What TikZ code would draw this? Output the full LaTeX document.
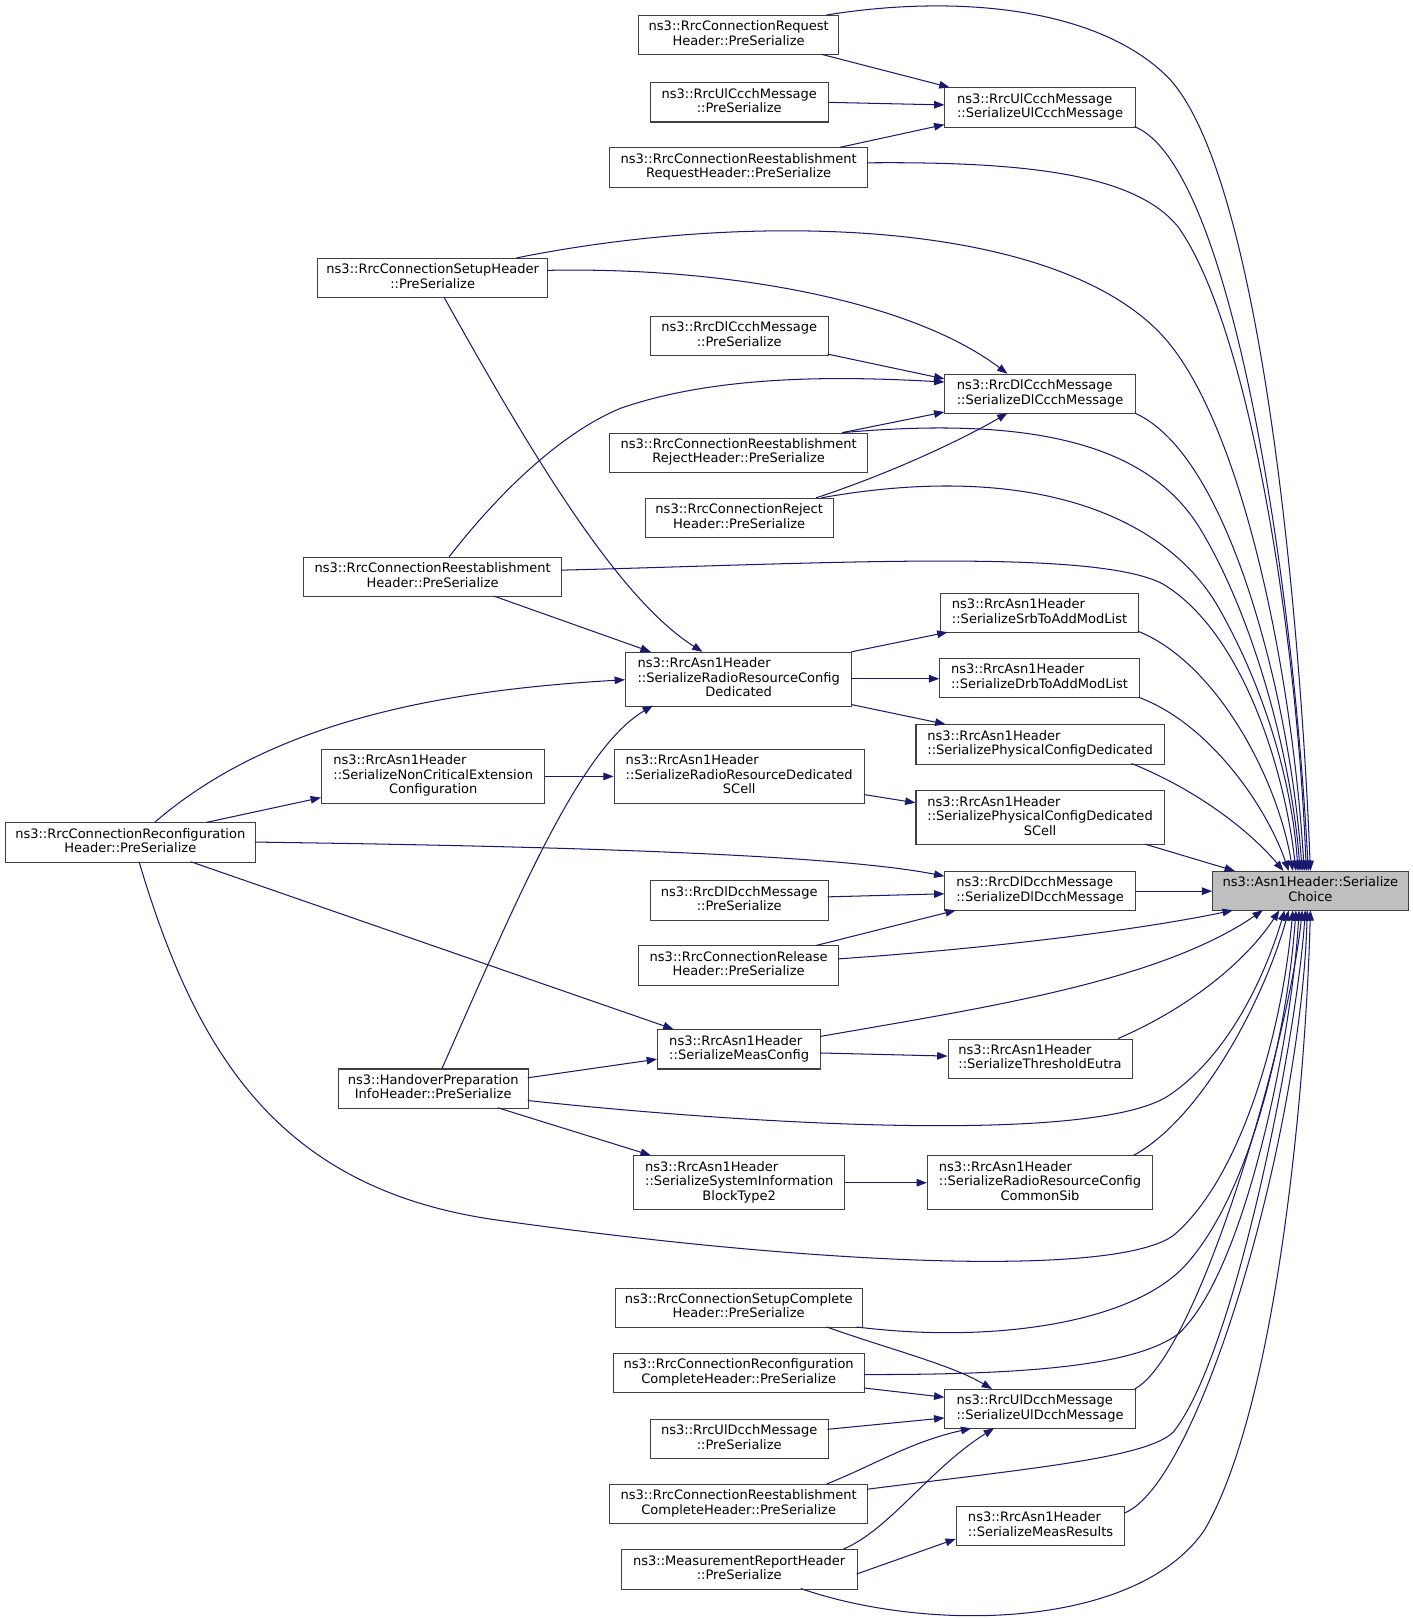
\documentclass[tikz,border=0pt]{standalone}
\usepackage{fontspec}
\setmainfont{DejaVu Sans}
\usetikzlibrary{arrows.meta}
\definecolor{edgec}{HTML}{191970}
\definecolor{boxc}{HTML}{404040}
\definecolor{hl}{HTML}{BFBFBF}
\newcommand\lb[2]{\begin{tabular}{@{}l@{}}#1\\\multicolumn{1}{@{}c@{}}{#2}\end{tabular}}
\newcommand\nd[7][]{\node[nbox,#1,minimum width={(#4-#2)*0.75pt},minimum height={(#5-#3)*0.75pt}] (#6) at ({(#2+#4)/2},{(#3+#5)/2}) {#7};}
\begin{document}
\begin{tikzpicture}[x=0.75pt,y=-0.75pt,
  nbox/.style={draw=boxc,fill=white,line width=0.75pt,inner sep=0pt,font=\fontsize{9.45}{10.5}\selectfont},
  cl/.style={draw=edgec,line width=0.75pt,-{Triangle[length=7.5pt,width=5.5pt]}}]
\fill[white] (0,0) rectangle (1366,1566);
\useasboundingbox (0,0) rectangle (1366,1566);
% callee
\nd[fill=hl]{1173}{843}{1362}{881}{sc}{\lb{ns3::Asn1Header::Serialize}{Choice}}
% column 4
\nd{914}{85}{1098}{123}{ulc}{\lb{ns3::RrcUlCcchMessage}{::SerializeUlCcchMessage}}
\nd{914}{362}{1098}{400}{dlc}{\lb{ns3::RrcDlCcchMessage}{::SerializeDlCcchMessage}}
\nd{910}{574}{1101}{612}{srb}{\lb{ns3::RrcAsn1Header}{::SerializeSrbToAddModList}}
\nd{909}{637}{1102}{675}{drb}{\lb{ns3::RrcAsn1Header}{::SerializeDrbToAddModList}}
\nd{886}{701}{1126}{739}{pd}{\lb{ns3::RrcAsn1Header}{::SerializePhysicalConfigDedicated}}
\nd{886}{765}{1126}{817}{pds}{\lb{ns3::RrcAsn1Header\\::SerializePhysicalConfigDedicated}{SCell}}
\nd{914}{843}{1098}{881}{dld}{\lb{ns3::RrcDlDcchMessage}{::SerializeDlDcchMessage}}
\nd{917}{1005}{1095}{1043}{thr}{\lb{ns3::RrcAsn1Header}{::SerializeThresholdEutra}}
\nd{897}{1118}{1115}{1170}{rcs}{\lb{ns3::RrcAsn1Header\\::SerializeRadioResourceConfig}{CommonSib}}
\nd{914}{1344}{1098}{1382}{uld}{\lb{ns3::RrcUlDcchMessage}{::SerializeUlDcchMessage}}
\nd{925}{1457}{1088}{1495}{mr}{\lb{ns3::RrcAsn1Header}{::SerializeMeasResults}}
% column 3
\nd{618}{15}{811}{53}{req}{\lb{ns3::RrcConnectionRequest}{Header::PreSerialize}}
\nd{629}{80}{801}{118}{ulcp}{\lb{ns3::RrcUlCcchMessage}{::PreSerialize}}
\nd{590}{143}{839}{181}{rreq}{\lb{ns3::RrcConnectionReestablishment}{RequestHeader::PreSerialize}}
\nd{629}{306}{801}{344}{dlcp}{\lb{ns3::RrcDlCcchMessage}{::PreSerialize}}
\nd{590}{419}{839}{457}{rrej}{\lb{ns3::RrcConnectionReestablishment}{RejectHeader::PreSerialize}}
\nd{624}{482}{806}{520}{crej}{\lb{ns3::RrcConnectionReject}{Header::PreSerialize}}
\nd{605}{631}{824}{683}{rd}{\lb{ns3::RrcAsn1Header\\::SerializeRadioResourceConfig}{Dedicated}}
\nd{594}{725}{836}{777}{rds}{\lb{ns3::RrcAsn1Header\\::SerializeRadioResourceDedicated}{SCell}}
\nd{629}{852}{801}{890}{dldp}{\lb{ns3::RrcDlDcchMessage}{::PreSerialize}}
\nd{618}{915}{811}{953}{rel}{\lb{ns3::RrcConnectionRelease}{Header::PreSerialize}}
\nd{636}{996}{794}{1034}{mc}{\lb{ns3::RrcAsn1Header}{::SerializeMeasConfig}}
\nd{613}{1118}{817}{1170}{sib}{\lb{ns3::RrcAsn1Header\\::SerializeSystemInformation}{BlockType2}}
\nd{595}{1246}{834}{1284}{scmp}{\lb{ns3::RrcConnectionSetupComplete}{Header::PreSerialize}}
\nd{593}{1309}{836}{1347}{rcmp}{\lb{ns3::RrcConnectionReconfiguration}{CompleteHeader::PreSerialize}}
\nd{629}{1373}{801}{1411}{uldp}{\lb{ns3::RrcUlDcchMessage}{::PreSerialize}}
\nd{590}{1436}{839}{1474}{recmp}{\lb{ns3::RrcConnectionReestablishment}{CompleteHeader::PreSerialize}}
\nd{601}{1499}{829}{1537}{mrep}{\lb{ns3::MeasurementReportHeader}{::PreSerialize}}
% column 2
\nd{307}{250}{530}{288}{setup}{\lb{ns3::RrcConnectionSetupHeader}{::PreSerialize}}
\nd{294}{539}{543}{577}{reest}{\lb{ns3::RrcConnectionReestablishment}{Header::PreSerialize}}
\nd{311}{725}{527}{777}{nc}{\lb{ns3::RrcAsn1Header\\::SerializeNonCriticalExtension}{Configuration}}
\nd{327}{1034}{511}{1072}{ho}{\lb{ns3::HandoverPreparation}{InfoHeader::PreSerialize}}
% column 1
\nd{5}{796}{247}{834}{reconf}{\lb{ns3::RrcConnectionReconfiguration}{Header::PreSerialize}}

% ---- edges into SerializeChoice
\draw[cl] ([shift={(182,0)}]req.north west) .. controls (920,-5) and (1060,5) .. (1130,75) .. controls (1220,170) and (1258,600) .. ([shift={(95,0)}]sc.north west);
\draw[cl] ([shift={(184,38)}]ulc.north west) .. controls (1190,160) and (1250,550) .. ([shift={(93,0)}]sc.north west);
\draw[cl] ([shift={(249,15)}]rreq.north west) .. controls (1000,156) and (1100,170) .. (1140,220) .. controls (1210,320) and (1255,620) .. ([shift={(91,0)}]sc.north west);
\draw[cl] ([shift={(193,0)}]setup.north west) .. controls (720,205) and (1010,210) .. (1120,320) .. controls (1200,400) and (1250,650) .. ([shift={(89,0)}]sc.north west);
\draw[cl] ([shift={(184,38)}]dlc.north west) .. controls (1190,440) and (1248,680) .. ([shift={(87,0)}]sc.north west);
\draw[cl] ([shift={(225,0)}]rrej.north west) .. controls (1000,402) and (1110,430) .. (1160,510) .. controls (1215,600) and (1250,740) .. ([shift={(85,0)}]sc.north west);
\draw[cl] ([shift={(171,0)}]crej.north west) .. controls (1000,445) and (1130,500) .. (1180,590) .. controls (1225,670) and (1250,760) .. ([shift={(83,0)}]sc.north west);
\draw[cl] ([shift={(249,13)}]reest.north west) .. controls (800,545) and (1060,530) .. (1125,565) .. controls (1200,610) and (1242,740) .. ([shift={(81,0)}]sc.north west);
\draw[cl] ([shift={(191,37)}]srb.north west) .. controls (1175,640) and (1235,750) .. ([shift={(78,0)}]sc.north west);
\draw[cl] ([shift={(193,38)}]drb.north west) .. controls (1170,700) and (1225,780) .. ([shift={(74,0)}]sc.north west);
\draw[cl] ([shift={(209,38)}]pd.north west) .. controls (1160,765) and (1210,805) .. ([shift={(69,0)}]sc.north west);
\draw[cl] ([shift={(222,52)}]pds.north west) -- ([shift={(22,0)}]sc.north west);
\draw[cl] (dld.east) -- (sc.west);
\draw[cl] ([shift={(193,13)}]rel.north west) .. controls (950,918) and (1100,900) .. ([shift={(20,38)}]sc.north west);
\draw[cl] ([shift={(158,7)}]mc.north west) .. controls (950,975) and (1120,950) .. ([shift={(49,38)}]sc.north west);
\draw[cl] ([shift={(165,0)}]thr.north west) .. controls (1150,975) and (1205,930) .. ([shift={(65,38)}]sc.north west);
\draw[cl] ([shift={(184,31)}]ho.north west) .. controls (750,1090) and (1060,1105) .. (1130,1060) .. controls (1190,1020) and (1225,940) .. ([shift={(70,38)}]sc.north west);
\draw[cl] ([shift={(200,0)}]rcs.north west) .. controls (1165,1080) and (1225,960) .. ([shift={(74,38)}]sc.north west);
\draw[cl] ([shift={(130,38)}]reconf.north west) .. controls (190,1020) and (270,1150) .. (480,1180) .. controls (800,1225) and (1080,1235) .. (1135,1195) .. controls (1200,1140) and (1240,1000) .. ([shift={(78,38)}]sc.north west);
\draw[cl] ([shift={(234,38)}]scmp.north west) .. controls (960,1300) and (1100,1280) .. (1150,1220) .. controls (1210,1150) and (1245,1000) .. ([shift={(81,38)}]sc.north west);
\draw[cl] ([shift={(243,21)}]rcmp.north west) .. controls (1000,1330) and (1100,1320) .. (1140,1290) .. controls (1205,1230) and (1250,1000) .. ([shift={(84,38)}]sc.north west);
\draw[cl] ([shift={(184,0)}]uld.north west) .. controls (1160,1310) and (1248,1000) .. ([shift={(87,38)}]sc.north west);
\draw[cl] ([shift={(249,5)}]recmp.north west) .. controls (1000,1420) and (1110,1410) .. (1135,1385) .. controls (1195,1310) and (1255,1000) .. ([shift={(90,38)}]sc.north west);
\draw[cl] ([shift={(163,7)}]mr.north west) .. controls (1160,1435) and (1258,1100) .. ([shift={(92,38)}]sc.north west);
\draw[cl] ([shift={(174,38)}]mrep.north west) .. controls (900,1580) and (1100,1575) .. (1165,1480) .. controls (1235,1360) and (1263,1050) .. ([shift={(95,38)}]sc.north west);
% ---- UlCcch
\draw[cl] ([shift={(177,38)}]req.north west) -- ([shift={(5,0)}]ulc.north west);
\draw[cl] (ulcp.east) -- ([shift={(0,17)}]ulc.north west);
\draw[cl] ([shift={(223,0)}]rreq.north west) -- ([shift={(0,36)}]ulc.north west);
% ---- DlCcch
\draw[cl] ([shift={(223,12)}]setup.north west) .. controls (700,258) and (880,290) .. ([shift={(61,0)}]dlc.north west);
\draw[cl] ([shift={(172,37)}]dlcp.north west) -- ([shift={(0,5)}]dlc.north west);
\draw[cl] ([shift={(141,0)}]reest.north west) .. controls (480,480) and (540,420) .. (600,395) .. controls (700,360) and (830,365) .. ([shift={(0,8)}]dlc.north west);
\draw[cl] ([shift={(225,0)}]rrej.north west) -- ([shift={(0,37)}]dlc.north west);
\draw[cl] ([shift={(166,0)}]crej.north west) .. controls (870,455) and (940,420) .. ([shift={(61,38)}]dlc.north west);
% ---- RadioResourceConfigDedicated
\draw[cl] ([shift={(123,38)}]setup.north west) .. controls (520,450) and (600,580) .. ([shift={(75,0)}]rd.north west);
\draw[cl] ([shift={(184,38)}]reest.north west) -- ([shift={(25,0)}]rd.north west);
\draw[cl] ([shift={(145,0)}]reconf.north west) .. controls (260,700) and (420,668) .. ([shift={(0,27)}]rd.north west);
\draw[cl] ([shift={(101,0)}]ho.north west) .. controls (500,870) and (560,725) .. ([shift={(27,52)}]rd.north west);
\draw[cl] ([shift={(219,0)}]rd.north west) -- ([shift={(7,38)}]srb.north west);
\draw[cl] ([shift={(219,26)}]rd.north west) -- ([shift={(0,20)}]drb.north west);
\draw[cl] ([shift={(219,51)}]rd.north west) -- ([shift={(29,0)}]pd.north west);
\draw[cl] ([shift={(242,44)}]rds.north west) -- ([shift={(0,12)}]pds.north west);
\draw[cl] (nc.east) -- (rds.west);
\draw[cl] ([shift={(195,0)}]reconf.north west) -- ([shift={(0,47)}]nc.north west);
% ---- DlDcch
\draw[cl] ([shift={(242,19)}]reconf.north west) .. controls (500,818) and (800,825) .. ([shift={(0,5)}]dld.north west);
\draw[cl] ([shift={(172,16)}]dldp.north west) -- ([shift={(0,22)}]dld.north west);
\draw[cl] ([shift={(172,0)}]rel.north west) -- ([shift={(11,38)}]dld.north west);
% ---- MeasConfig etc.
\draw[cl] ([shift={(180,38)}]reconf.north west) -- ([shift={(16,0)}]mc.north west);
\draw[cl] ([shift={(184,9)}]ho.north west) -- ([shift={(0,29)}]mc.north west);
\draw[cl] ([shift={(158,23)}]mc.north west) -- ([shift={(0,17)}]thr.north west);
\draw[cl] ([shift={(155,38)}]ho.north west) -- ([shift={(17,0)}]sib.north west);
\draw[cl] (sib.east) -- (rcs.west);
% ---- UlDcch
\draw[cl] ([shift={(205,38)}]scmp.north west) .. controls (860,1305) and (920,1320) .. ([shift={(46,0)}]uld.north west);
\draw[cl] ([shift={(243,34)}]rcmp.north west) -- ([shift={(0,8)}]uld.north west);
\draw[cl] ([shift={(172,10)}]uldp.north west) -- ([shift={(0,28)}]uld.north west);
\draw[cl] ([shift={(210,0)}]recmp.north west) .. controls (850,1415) and (880,1395) .. ([shift={(26,38)}]uld.north west);
\draw[cl] ([shift={(215,0)}]mrep.north west) .. controls (860,1480) and (900,1420) .. ([shift={(48,38)}]uld.north west);
\draw[cl] ([shift={(228,24)}]mrep.north west) -- ([shift={(0,32)}]mr.north west);
\end{tikzpicture}
\end{document}
